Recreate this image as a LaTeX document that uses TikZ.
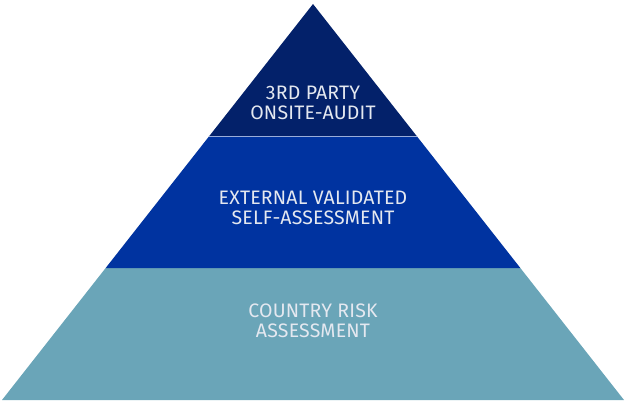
\documentclass[tikz,border=0pt]{standalone}
\usepackage{fontspec}
\setmainfont{Fira Sans}
\definecolor{topc}{HTML}{03216A}
\definecolor{midc}{HTML}{0033A0}
\definecolor{botc}{HTML}{6AA5B8}
\definecolor{txtc}{HTML}{E4E8F0}
\begin{document}
\begin{tikzpicture}[x=1pt,y=-1pt,
  lbl/.style={text=txtc,align=center,font=\fontsize{19.5}{19.5}\selectfont\addfontfeature{LetterSpace=1}}]
\useasboundingbox (0,0) rectangle (626,401);
\coordinate (apex) at (313,4);
\coordinate (bl) at (2,400);
\coordinate (br) at (624,400);
\path (apex) -- (bl) coordinate[pos=0.3333] (a1) coordinate[pos=0.6667] (a2);
\path (apex) -- (br) coordinate[pos=0.3333] (b1) coordinate[pos=0.6667] (b2);
\fill[botc] (a2) -- (bl) -- (br) -- (b2) -- cycle;
\fill[midc] (a1) -- (a2) -- (b2) -- (b1) -- cycle;
\fill[topc] (apex) -- (a1) -- (b1) -- cycle;
\draw[white!60!midc,line width=0.6pt] (a1) -- (b1);
\node[lbl] (t1) at (313,103) {3RD PARTY\\ONSITE-AUDIT};
\node[lbl] (t2) at (313,208) {EXTERNAL VALIDATED\\SELF-ASSESSMENT};
\node[lbl] (t3) at (313,321) {COUNTRY RISK\\ASSESSMENT};
\end{tikzpicture}
\end{document}
